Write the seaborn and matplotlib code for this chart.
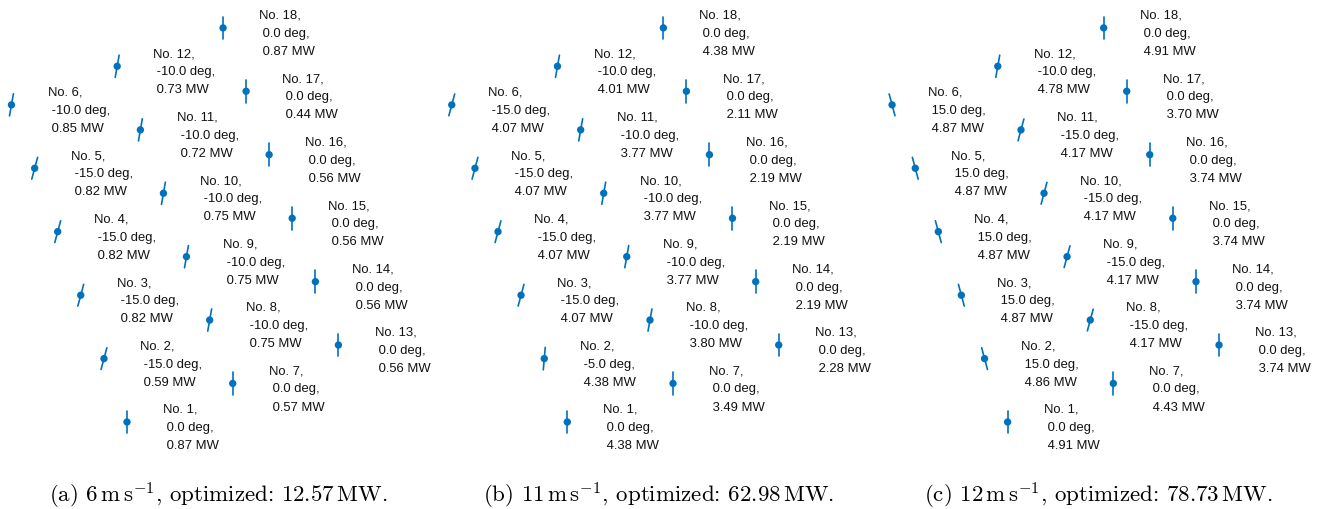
import numpy as np
import pandas as pd
import seaborn as sns
import matplotlib.pyplot as plt

# wind farm layout (metres), 3 columns x 6 rows
TURBINE_IDS = list(range(1, 19))
LAYOUT_X = [0, -129, -259, -388, -517, -647,
            592, 463, 333, 204, 75, -55,
            1184, 1055, 925, 796, 667, 538]
LAYOUT_Y = [0, 355, 710, 1066, 1421, 1776,
            216, 571, 926, 1281, 1636, 1992,
            431, 786, 1141, 1497, 1852, 2207]
ROTOR_D = 126.0

CASE_TAGS = ['(a)', '(b)', '(c)']
WIND_SPEEDS = [6, 11, 12]
TOTAL_POWER = [12.57, 62.98, 78.73]

YAW_A = [0, -15, -15, -15, -15, -10,
         0, -10, -10, -10, -10, -10,
         0, 0, 0, 0, 0, 0]
POWER_A = [0.87, 0.59, 0.82, 0.82, 0.82, 0.85,
           0.57, 0.75, 0.75, 0.75, 0.72, 0.73,
           0.56, 0.56, 0.56, 0.56, 0.44, 0.87]

YAW_B = [0, -5, -15, -15, -15, -15,
         0, -10, -10, -10, -10, -10,
         0, 0, 0, 0, 0, 0]
POWER_B = [4.38, 4.38, 4.07, 4.07, 4.07, 4.07,
           3.49, 3.80, 3.77, 3.77, 3.77, 4.01,
           2.28, 2.19, 2.19, 2.19, 2.11, 4.38]

YAW_C = [0, 15, 15, 15, 15, 15,
         0, -15, -15, -15, -15, -10,
         0, 0, 0, 0, 0, 0]
POWER_C = [4.91, 4.86, 4.87, 4.87, 4.87, 4.87,
           4.43, 4.17, 4.17, 4.17, 4.17, 4.78,
           3.74, 3.74, 3.74, 3.74, 3.70, 4.91]

BLUE = '#0072BD'
FIG_W, FIG_H = 1319, 510
M_PER_PX = 5.6


def rotor_segments(df):
    rad = np.deg2rad(df['yaw'].astype(float))
    half = ROTOR_D / 2
    dx = -np.sin(rad) * half
    dy = np.cos(rad) * half
    top = pd.DataFrame({'id': df['id'], 'x': df['x'] + dx, 'y': df['y'] + dy, 'end': 0})
    bot = pd.DataFrame({'id': df['id'], 'x': df['x'] - dx, 'y': df['y'] - dy, 'end': 1})
    return pd.concat([top, bot]).sort_values(['id', 'end'])


def draw_case(ax, yaw, power):
    df = pd.DataFrame({'id': TURBINE_IDS, 'x': LAYOUT_X, 'y': LAYOUT_Y,
                       'yaw': yaw, 'power': power})
    seg = rotor_segments(df)
    sns.lineplot(data=seg, x='x', y='y', units='id', estimator=None, sort=False,
                 color=BLUE, linewidth=1.2, ax=ax, legend=False)
    sns.scatterplot(data=df, x='x', y='y', color=BLUE, s=28, edgecolor='none',
                    ax=ax, legend=False, zorder=3)
    for _, r in df.iterrows():
        label = f"No. {int(r['id'])},\n {r['yaw']:.1f} deg,\n {r['power']:.2f} MW"
        ax.annotate(label, xy=(r['x'], r['y']), xytext=(26, -3.6),
                    textcoords='offset points', ha='left', va='center',
                    fontsize=9.4, family='Liberation Sans', linespacing=1.68,
                    color='#111111')


def main():
    sns.set_theme(style='white')
    plt.rcParams['mathtext.fontset'] = 'cm'
    plt.rcParams['axes.unicode_minus'] = False

    fig = plt.figure(figsize=(FIG_W / 100, FIG_H / 100), dpi=100)

    cases = [(YAW_A, POWER_A), (YAW_B, POWER_B), (YAW_C, POWER_C)]
    panel_w, panel_h = 440.3, 460
    origin_px, origin_py = 127, 423

    for i, (yaw, power) in enumerate(cases):
        left = i * panel_w
        ax = fig.add_axes([left / FIG_W, (FIG_H - panel_h) / FIG_H,
                           panel_w / FIG_W, panel_h / FIG_H])
        draw_case(ax, yaw, power)
        ax.set_xlim(-origin_px * M_PER_PX, (panel_w - origin_px) * M_PER_PX)
        ax.set_ylim(-(panel_h - origin_py) * M_PER_PX, origin_py * M_PER_PX)
        ax.set_axis_off()

        caption = (f"{CASE_TAGS[i]} ${WIND_SPEEDS[i]}\\,\\mathrm{{m\\,s^{{-1}}}}$, "
                   f"optimized: ${TOTAL_POWER[i]:.2f}\\,\\mathrm{{MW}}$.")
        fig.text((left + panel_w / 2 - 2) / FIG_W, (FIG_H - 503) / FIG_H, caption,
                 ha='center', va='baseline', fontsize=16.5, family='cmr10',
                 color='black')

    fig.savefig('out.png', dpi=100)


if __name__ == "__main__":
    main()
